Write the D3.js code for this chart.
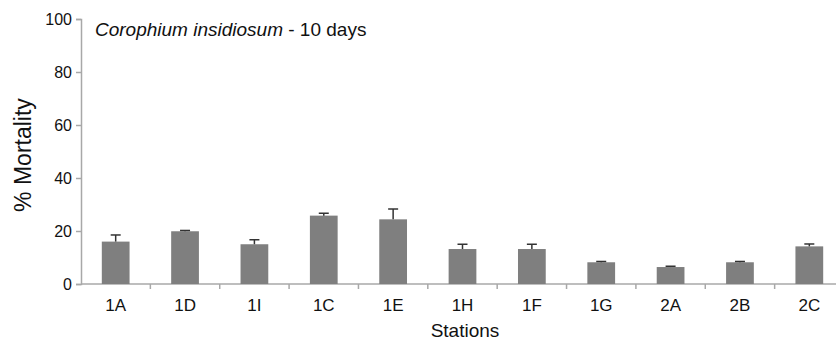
<!DOCTYPE html>
<html>
<head>
<meta charset="utf-8">
<script src="https://cdn.jsdelivr.net/npm/d3@7"></script>
<style>
  body { margin: 0; background: #fff; }
  text { font-family: "Liberation Sans", Arial, sans-serif; fill: #111; }
</style>
</head>
<body>
<div class="svg-container"></div>
<script>
// data
const stations = ["1A", "1D", "1I", "1C", "1E", "1H", "1F", "1G", "2A", "2B", "2C"];
const mortality = [16.0, 19.9, 15.0, 25.8, 24.4, 13.2, 13.2, 8.2, 6.4, 8.2, 14.2];
const errors = [2.5, 0.3, 1.7, 0.9, 3.9, 1.8, 1.8, 0.3, 0.3, 0.3, 0.9];
const yTicks = [0, 20, 40, 60, 80, 100];

const width = 836, height = 341;
const margin = {left: 81, right: -8, top: 19, bottom: 57};

const rows = stations.map(function(s, i) {
  return {station: s, value: mortality[i], err: errors[i]};
});

const svg = d3.select(".svg-container").append("svg")
  .attr("width", width)
  .attr("height", height);

const x = d3.scaleBand()
  .domain(stations)
  .range([margin.left, width - margin.right])
  .paddingInner(0.6)
  .paddingOuter(0.3);

// band edges for the category tick marks
const step = x.step();
const x0 = margin.left;

const y = d3.scaleLinear()
  .domain([0, 100])
  .range([height - margin.bottom, margin.top]);

// y axis
const yAxis = svg.append("g")
  .attr("transform", "translate(" + x0 + ",0)")
  .call(d3.axisLeft(y).tickValues(yTicks).tickSize(5).tickPadding(4));
yAxis.select(".domain").attr("stroke", "#a8a8a8").attr("stroke-width", 1.5);
yAxis.selectAll(".tick line").attr("stroke", "#a8a8a8").attr("stroke-width", 1.5);
yAxis.selectAll(".tick text").style("font-size", "16px").attr("fill", "#111");

// x axis line + boundary ticks
const baseY = y(0);
svg.append("line")
  .attr("x1", x0).attr("x2", width)
  .attr("y1", baseY).attr("y2", baseY)
  .attr("stroke", "#a8a8a8").attr("stroke-width", 1.5);

svg.selectAll("line.xtick")
  .data(d3.range(1, stations.length))
  .enter().append("line")
  .attr("class", "xtick")
  .attr("x1", function(i) { return x0 + i * step; })
  .attr("x2", function(i) { return x0 + i * step; })
  .attr("y1", baseY).attr("y2", baseY + 5)
  .attr("stroke", "#a8a8a8").attr("stroke-width", 1.5);

svg.selectAll("text.xlabel")
  .data(stations)
  .enter().append("text")
  .attr("class", "xlabel")
  .attr("x", function(d) { return x(d) + x.bandwidth() / 2; })
  .attr("y", baseY + 27)
  .attr("text-anchor", "middle")
  .style("font-size", "17px")
  .text(function(d) { return d; });

// bars
svg.selectAll("rect.bar")
  .data(rows)
  .enter().append("rect")
  .attr("class", "bar")
  .attr("x", function(d) { return x(d.station); })
  .attr("y", function(d) { return y(d.value); })
  .attr("width", x.bandwidth())
  .attr("height", function(d) { return y(0) - y(d.value); })
  .attr("fill", "#7f7f7f");

// error bars (upper only)
const errG = svg.selectAll("g.err")
  .data(rows)
  .enter().append("g")
  .attr("class", "err");

errG.append("line")
  .attr("x1", function(d) { return x(d.station) + x.bandwidth() / 2; })
  .attr("x2", function(d) { return x(d.station) + x.bandwidth() / 2; })
  .attr("y1", function(d) { return y(d.value); })
  .attr("y2", function(d) { return y(d.value + d.err); })
  .attr("stroke", "#333").attr("stroke-width", 1.5);

errG.append("line")
  .attr("x1", function(d) { return x(d.station) + x.bandwidth() / 2 - 5; })
  .attr("x2", function(d) { return x(d.station) + x.bandwidth() / 2 + 5; })
  .attr("y1", function(d) { return y(d.value + d.err); })
  .attr("y2", function(d) { return y(d.value + d.err); })
  .attr("stroke", "#333").attr("stroke-width", 1.5);

// axis titles
svg.append("text")
  .attr("x", 465)
  .attr("y", 337)
  .attr("text-anchor", "middle")
  .style("font-size", "19px")
  .text("Stations");

svg.append("text")
  .attr("transform", "translate(31,155) rotate(-90)")
  .attr("text-anchor", "middle")
  .style("font-size", "23px")
  .text("% Mortality");

// panel title
const title = svg.append("text")
  .attr("x", 95)
  .attr("y", 36)
  .style("font-size", "19px");
title.append("tspan").style("font-style", "italic").text("Corophium insidiosum");
title.append("tspan").text(" - 10 days");
</script>
</body>
</html>
